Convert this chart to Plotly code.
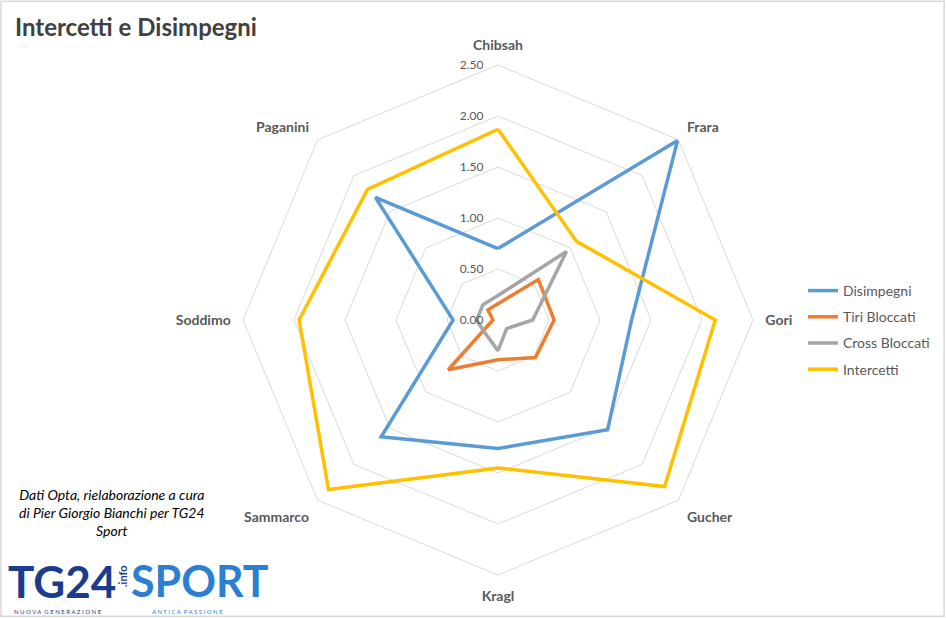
import plotly.graph_objects as go

categories = ["Chibsah", "Frara", "Gori", "Gucher", "Kragl", "Sammarco", "Soddimo", "Paganini"]
disimpegni = [0.70, 2.49, 1.31, 1.52, 1.26, 1.62, 0.44, 1.70]
tiri_bloccati = [0.16, 0.56, 0.55, 0.52, 0.39, 0.69, 0.05, 0.14]
cross_bloccati = [0.24, 0.95, 0.34, 0.12, 0.30, 0.18, 0.21, 0.21]
intercetti = [1.87, 1.09, 2.13, 2.31, 1.45, 2.35, 1.95, 1.81]
tick_vals = [0, 0.5, 1.0, 1.5, 2.0, 2.5]
tick_text = ["0.00", "0.50", "1.00", "1.50", "2.00", "2.50"]

series = [
    ("Disimpegni", disimpegni, "#5B9BD5"),
    ("Tiri Bloccati", tiri_bloccati, "#ED7D31"),
    ("Cross Bloccati", cross_bloccati, "#A5A5A5"),
    ("Intercetti", intercetti, "#FFC000"),
]

W, H = 946, 618
cx, cy, R = 498, 320, 255
pad = "\u00a0" * 4

fig = go.Figure()
for name, vals, col in series:
    fig.add_trace(go.Scatterpolar(
        r=vals + vals[:1], theta=categories + categories[:1],
        mode="lines", name=name, legendgroup=name,
        line=dict(color=col, width=3.5),
    ))

fig.update_layout(
    width=W, height=H,
    margin=dict(l=0, r=0, t=0, b=0),
    paper_bgcolor="white",
    font=dict(family="Lato", color="#595959"),
    polar=dict(
        domain=dict(x=[(cx - R) / W, (cx + R) / W], y=[(H - cy - R) / H, (H - cy + R) / H]),
        gridshape="linear",
        bgcolor="white",
        angularaxis=dict(
            rotation=90, direction="clockwise",
            showgrid=False, showline=True, linecolor="#D9D9D9", linewidth=1,
            ticks="outside", ticklen=9, tickcolor="rgba(0,0,0,0)",
            tickfont=dict(family="Lato", size=14, color="#595959", weight="bold"),
        ),
        radialaxis=dict(
            range=[0, 2.5], tickvals=tick_vals, ticktext=[t + pad for t in tick_text],
            angle=90, side="counterclockwise", tickangle=90,
            showline=False, ticks="", gridcolor="#D9D9D9", gridwidth=1,
            tickfont=dict(family="Lato", size=12, color="#595959"),
        ),
    ),
    legend=dict(
        x=803 / W, y=(H - 330) / H, xanchor="left", yanchor="middle",
        font=dict(family="Lato", size=14, color="#595959"),
        itemwidth=30, tracegroupgap=5,
        bgcolor="rgba(0,0,0,0)",
    ),
    shapes=[dict(type="rect", xref="paper", yref="paper", x0=0.001, x1=0.998, y0=0.003, y1=0.998,
                 line=dict(color="#D9D9D9", width=1.5))],
)

annotations = [
    dict(text="Intercetti e Disimpegni", x=13 / W, y=(H - 27) / H, xanchor="left", yanchor="middle",
         font=dict(family="Lato", size=24, color="#404040", weight="bold"), showarrow=False),
    dict(text="<i>Dati Opta, rielaborazione a cura<br>di Pier Giorgio Bianchi per TG24<br>Sport</i>",
         x=112 / W, y=(H - 512) / H, xanchor="center", yanchor="middle", align="center",
         font=dict(family="Lato", size=14, color="#000000"), showarrow=False),
    dict(text="<b>TG24</b>", x=6 / W, y=(H - 581) / H, xanchor="left", yanchor="middle",
         font=dict(family="Lato", size=44, color="#1B3C8C"), showarrow=False),
    dict(text="<b>.info</b>", x=122 / W, y=(H - 576) / H, xanchor="center", yanchor="middle", textangle=-90,
         font=dict(family="Lato", size=11, color="#1B3C8C"), showarrow=False),
    dict(text="<b>SPORT</b>", x=129 / W, y=(H - 580) / H, xanchor="left", yanchor="middle",
         font=dict(family="Lato", size=43, color="#2A7FD0"), showarrow=False),
    dict(text="N U O V A  G E N E R A Z I O N E", x=12 / W, y=(H - 611) / H, xanchor="left", yanchor="middle",
         font=dict(family="Lato", size=6, color="#1B3C8C"), showarrow=False),
    dict(text="A N T I C A  P A S S I O N E", x=150 / W, y=(H - 611) / H, xanchor="left", yanchor="middle",
         font=dict(family="Lato", size=6, color="#2A7FD0"), showarrow=False),
]
fig.update_layout(annotations=annotations)

fig.write_html("out.html", config={"displayModeBar": False},
               post_script="document.body.style.margin='0';document.body.style.overflow='hidden';")
